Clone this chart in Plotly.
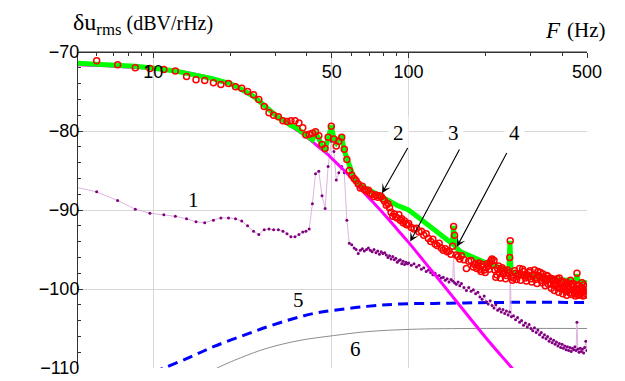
import numpy as np
import plotly.graph_objects as go

# ---------------- data ----------------
# frequencies of the measured spectra (Hz)
F_LO = [6.0, 7.25, 8.5, 9.7, 11.0, 12.2, 13.5, 14.7, 15.9, 17.2,
        18.4, 19.7, 21.0, 22.2, 23.4, 24.7, 25.9, 27.2, 28.4, 29.6,
        30.9, 32.2, 33.4, 34.6, 35.9, 37.2, 38.5, 39.6, 40.8, 42.0,
        43.2, 44.5, 45.8, 47.1, 48.4, 49.8, 51.0, 52.1, 53.3, 54.7,
        56.0, 57.3, 58.6, 59.9, 61.2]
F_HI = [62.3, 63.5, 64.7, 65.9, 67.1, 68.4, 69.6, 70.8, 72.0, 73.2,
        74.5, 75.7, 76.9, 78.1, 79.3, 80.6, 81.8, 83.0, 84.2, 85.4,
        86.7, 87.9, 89.1, 90.3, 91.6, 92.8, 94.0, 95.2, 96.4, 97.7,
        98.9, 100.1, 102.5, 105.0, 107.4, 109.9, 112.3, 114.7, 117.2, 119.6,
        122.1, 124.5, 127.0, 129.4, 131.8, 134.3, 136.7, 139.2, 141.6, 144.0,
        146.5, 148.9, 150.1, 151.4, 153.8, 156.3, 158.7, 161.1, 164.8, 168.5,
        172.1, 175.8, 179.4, 183.1, 186.8, 190.4, 194.1, 197.8, 201.4, 205.1,
        208.7, 212.4, 216.1, 219.7, 223.4, 227.1, 230.7, 234.4, 238.0, 241.7,
        245.4, 249.0, 250.2, 252.7, 257.6, 262.5, 267.3, 272.2, 277.1, 282.0,
        286.9, 291.8, 296.7, 301.6, 306.5, 311.3, 316.2, 321.1, 326.0, 330.9,
        335.8, 340.7, 345.5, 350.4, 355.3, 360.2, 365.1, 370.0, 374.9, 379.8,
        384.6, 389.5, 394.4, 399.3, 404.2, 409.1, 414.0, 418.9, 423.7, 428.6,
        433.5, 438.4, 443.3, 448.2, 453.1, 456.7, 460.4, 465.3, 470.2, 475.1,
        480.0, 484.9, 489.7, 494.6, 499.5]
# extra measured bins (red circles only) in the dense upper band
F_RED2 = [181.3, 185.0, 188.6, 192.3, 195.9, 199.6, 203.3, 206.9, 210.6, 214.2,
          217.9, 221.6, 225.2, 228.9, 232.5, 236.2, 239.9, 243.5, 255.2, 260.0,
          264.9, 269.8, 274.7, 279.6, 284.5, 289.3, 294.2, 299.1, 304.0, 308.9,
          313.8, 318.7, 323.5, 328.4, 333.3, 338.2, 343.1, 348.0, 352.9, 357.8,
          362.6, 367.5, 372.4, 377.3, 382.2, 387.1, 392.0, 396.8, 401.7, 406.6,
          411.5, 416.4, 421.3, 426.2, 431.0, 435.9, 440.8, 445.7, 450.6, 458.0,
          462.9, 467.8, 472.6, 477.5, 482.4, 487.3, 492.2, 497.1]

# red open circles (measured, curve 2)
RED_LO = [-71.1, -71.6, -72.0, -72.1, -72.2, -72.4, -73.1, -73.5, -73.6, -73.9,
          -74.1, -74.0, -74.4, -74.6, -75.0, -75.4, -76.0, -76.9, -77.7, -78.0,
          -78.2, -78.7, -78.8, -78.7, -78.7, -79.0, -79.6, -80.5, -80.4, -80.3,
          -80.1, -80.6, -81.7, -82.2, -80.8, -79.4, -81.0, -81.9, -81.3, -80.8,
          -82.3, -83.6, -85.0, -85.6, -86.0]
RED_HI = [-86.3, -86.7, -87.2, -87.0, -87.4, -87.6, -87.5, -87.9, -88.0, -88.3,
          -88.1, -88.4, -88.2, -88.3, -88.6, -88.9, -89.4, -89.2, -89.7, -90.3,
          -90.8, -90.5, -90.9, -91.0, -90.6, -91.3, -91.1, -91.6, -91.4, -91.8,
          -91.9, -91.7, -92.2, -92.4, -92.3, -92.8, -92.7, -93.2, -93.0, -93.6,
          -94.0, -93.7, -94.3, -94.5, -94.2, -94.8, -95.1, -94.9, -95.3, -95.2,
          -95.6, -94.6, -92.1, -93.2, -95.7, -95.9, -96.2, -95.8, -96.3, -97.4,
          -96.5, -96.4, -97.2, -96.8, -97.0, -97.5, -96.9, -97.6, -97.3, -97.1,
          -96.6, -96.2, -96.4, -98.5, -97.4, -97.9, -97.5, -98.1, -97.7, -98.3,
          -97.9, -96.0, -93.9, -98.4, -98.6, -98.0, -98.4, -97.4, -98.2, -97.8,
          -98.6, -98.2, -97.9, -98.7, -98.3, -97.6, -98.5, -97.8, -98.4, -98.9,
          -98.1, -98.6, -99.0, -98.4, -98.8, -99.3, -98.7, -99.5, -98.9, -99.2,
          -99.8, -98.6, -99.4, -100.0, -99.1, -99.6, -100.3, -99.2, -99.8, -100.5,
          -99.4, -100.1, -99.7, -100.6, -99.9, -98.0, -100.2, -99.6, -100.7, -99.8,
          -100.4, -99.5, -100.8, -100.1, -99.7]
RED2 = [-96.9, -97.4, -96.7, -97.8, -97.2, -97.9, -96.8, -97.5, -96.4, -97.0,
        -97.6, -98.2, -97.1, -98.6, -97.3, -98.0, -98.7, -97.6, -98.9, -97.7,
        -98.8, -98.1, -98.9, -97.5, -98.3, -99.0, -98.5, -97.7, -99.1, -98.2,
        -98.8, -99.3, -98.3, -97.9, -99.2, -98.7, -99.6, -98.3, -99.4, -98.6,
        -99.9, -98.9, -100.2, -99.5, -98.7, -100.4, -99.9, -99.0, -100.6, -99.8,
        -99.3, -100.8, -99.6, -100.1, -98.9, -100.7, -99.3, -100.4, -100.9, -99.5,
        -100.8, -99.9, -100.5, -99.2, -100.9, -100.3, -99.8, -100.6]

# purple dots (background noise, curve 1)
PURPLE_F0 = [4.8]
PURPLE_LO = [-87.0,
             -87.7, -88.8, -89.9, -90.4, -90.6, -90.8, -91.1, -91.5, -91.6, -91.3,
             -91.0, -91.0, -91.1, -91.4, -92.0, -92.7, -93.1, -92.5, -92.4, -92.5,
             -92.5, -92.7, -93.0, -93.4, -93.4, -93.1, -92.8, -92.7, -92.4, -89.2,
             -85.4, -85.1, -88.2, -89.8, -84.5, -81.3, -82.6, -86.2, -85.3, -84.5,
             -85.3, -91.3, -94.2, -94.4, -94.8]
PURPLE_HI = [-95.0, -95.5, -95.1, -94.9, -95.2, -95.0, -94.8, -95.1, -95.3, -95.0,
             -95.4, -95.2, -95.6, -95.3, -95.5, -95.4, -95.7, -96.0, -95.8, -96.2,
             -95.9, -96.3, -96.1, -96.6, -96.4, -96.3, -96.8, -96.5, -96.9, -96.6,
             -96.8, -96.7, -97.0, -96.8, -97.2, -97.0, -97.5, -97.3, -97.8, -97.6,
             -97.9, -98.2, -98.0, -98.4, -98.3, -98.6, -98.5, -98.9, -98.7, -99.1,
             -98.8, -99.0, -95.8, -99.2, -99.4, -99.1, -99.6, -99.3, -99.8, -100.2,
             -99.8, -100.3, -100.1, -100.6, -100.4, -101.0, -101.3, -100.9, -101.6, -101.9,
             -101.5, -102.1, -102.4, -102.0, -102.7, -102.5, -102.9, -102.6, -103.1, -102.8,
             -103.3, -102.9, -98.2, -103.5, -103.4, -103.9, -103.6, -104.2, -104.0, -104.6,
             -104.3, -104.8, -104.5, -105.0, -105.3, -104.9, -105.5, -105.2, -105.8, -105.5,
             -106.1, -105.8, -106.3, -106.0, -106.6, -106.3, -106.8, -106.5, -107.0, -106.7,
             -107.2, -106.9, -107.4, -107.0, -107.5, -107.2, -107.7, -107.3, -107.8, -107.4,
             -107.9, -107.5, -107.7, -107.3, -107.8, -104.2, -107.6, -108.0, -107.5, -107.9,
             -107.6, -108.1, -107.4, -106.6, -107.8]

# green thick line (curve 4)
GREEN_F = [4.8] + F_LO + [65.0, 70.0, 75.0, 80.0, 85.0, 90.0, 95.0, 100.0,
                          110.0, 120.0, 130.0, 140.0, 147.5, 149.0, 150.0, 151.2, 153.0,
                          160.0, 175.0, 190.0, 205.0, 220.0, 235.0,
                          247.0, 248.5, 249.5, 250.7, 252.0,
                          270.0, 290.0, 320.0, 350.0, 380.0, 420.0,
                          453.0, 456.5, 460.0, 480.0, 500.0]
GREEN_DB = [-71.4, -71.5, -71.6, -71.8, -72.0, -72.2, -72.4, -72.7, -72.9, -73.2,
            -73.4, -73.7, -73.9, -74.3, -74.7, -75.1, -75.6, -76.2, -76.8, -77.4,
            -77.9, -78.3, -78.6, -79.0, -79.3, -79.5, -79.8, -80.1, -80.5, -80.8,
            -81.1, -80.3, -80.9, -82.0, -82.3, -81.0, -79.3, -81.0, -81.5, -81.0,
            -80.8, -82.5, -83.4, -84.6, -85.5, -86.0,
            -86.9, -87.5, -88.0, -88.5, -89.0, -89.4, -89.7, -90.0,
            -91.0, -91.9, -92.7, -93.6, -94.2, -93.5, -92.0, -93.8, -94.7,
            -95.3, -95.9, -96.4, -96.8, -97.1, -97.5,
            -97.8, -95.5, -93.9, -95.8, -97.9,
            -98.0, -98.3, -98.5, -98.7, -98.8, -98.9,
            -99.0, -98.1, -99.0, -99.1, -99.2]

# magenta model curve (curve 3)
MAG_F = [4.8, 7, 10, 13, 16, 19, 22, 25, 28, 31, 34, 37, 40, 44, 48, 52, 56, 60,
         66, 72, 80, 90, 100, 115, 130, 150, 175, 200, 230, 254, 280]
MAG_DB = [-71.6, -71.8, -72.1, -72.5, -73.1, -73.8, -74.7, -75.7, -77.0, -78.2,
          -79.2, -80.0, -80.8, -81.9, -82.9, -84.0, -85.0, -86.0,
          -87.6, -88.9, -90.5, -92.4, -94.1, -96.5, -98.6, -101.1, -103.8, -106.1,
          -108.4, -110.0, -111.7]

# blue dashed curve (5) and grey curve (6)
BLUE_F = [10.0, 11.0, 14.0, 17.2, 22.0, 27.9, 35.0, 42.4, 50.8, 68.6, 92.8, 145.0, 229.0, 500.0]
BLUE_DB = [-110.5, -110.0, -108.6, -107.3, -106.0, -104.8, -103.8, -103.1, -102.7,
           -102.2, -101.9, -101.8, -101.7, -101.7]
GRAY_F = [16.5, 17.8, 22.0, 27.9, 37.6, 50.8, 68.6, 103.0, 169.0, 500.0]
GRAY_DB = [-110.6, -110.0, -108.7, -107.5, -106.5, -105.9, -105.4, -105.1, -105.0, -105.0]

X_TICKS = [10, 50, 100, 500]
X_TICKTEXT = ["10", "50", "100", "500"]
X_MINOR = [6, 7, 8, 9, 20, 30, 40, 60, 70, 80, 90, 200, 300, 400]
Y_TICKS = [-70, -80, -90, -100, -110]

# ---------------- figure ----------------
fig = go.Figure()

fig.add_trace(go.Scatter(x=GRAY_F, y=GRAY_DB, mode="lines",
                         line=dict(color="rgb(140,140,140)", width=1, shape="spline"), hoverinfo="skip"))
fig.add_trace(go.Scatter(x=BLUE_F, y=BLUE_DB, mode="lines",
                         line=dict(color="#0000FF", width=3, dash="10px,6px", shape="spline"), hoverinfo="skip"))
fig.add_trace(go.Scatter(x=PURPLE_F0 + F_LO + F_HI, y=PURPLE_LO + PURPLE_HI, mode="lines+markers",
                         line=dict(color="rgb(222,180,222)", width=1),
                         marker=dict(color="#800080", size=3), hoverinfo="skip"))
fig.add_trace(go.Scatter(x=MAG_F, y=MAG_DB, mode="lines",
                         line=dict(color="#FF00FF", width=3, shape="spline"), hoverinfo="skip"))
fig.add_trace(go.Scatter(x=GREEN_F, y=GREEN_DB, mode="lines",
                         line=dict(color="#00FF00", width=5), hoverinfo="skip"))
fig.add_trace(go.Scatter(x=F_LO + F_HI + F_RED2, y=RED_LO + RED_HI + RED2, mode="markers",
                         marker=dict(symbol="circle-open", color="#FF0000", size=6, line=dict(width=1.5)),
                         hoverinfo="skip"))

axis_col = "#333333"
grid_col = "rgb(215,215,215)"
tfont = dict(family="Liberation Sans, Arial, sans-serif", size=18, color="black")
serif = "Liberation Serif, Times New Roman, serif"

fig.update_layout(
    width=625, height=381,
    margin=dict(l=78, r=38, t=52, b=13),
    paper_bgcolor="white", plot_bgcolor="white",
    showlegend=False,
    title=dict(text='δu<sub>rms</sub><span style="font-size:20px"> (dBV/rHz)</span>',
               font=dict(family=serif, size=24, color="black"),
               xref="container", x=73 / 625, xanchor="left",
               yref="container", y=1 - 22 / 381, yanchor="middle"),
    xaxis=dict(type="log", range=[np.log10(5.07), np.log10(500)],
               anchor="free", position=1, side="bottom", automargin=False,
               tickmode="array", tickvals=X_TICKS, ticktext=X_TICKTEXT,
               ticks="outside", ticklen=5, tickcolor=axis_col, tickwidth=1,
               ticklabelstandoff=-2,
               showline=True, linecolor=axis_col, linewidth=1,
               showgrid=True, gridcolor=grid_col, gridwidth=1, zeroline=False,
               tickfont=tfont,
               minor=dict(tickmode="array", tickvals=X_MINOR, ticks="outside", ticklen=3,
                          tickcolor=axis_col, tickwidth=1, showgrid=False)),
    yaxis=dict(range=[-110, -70], tickmode="array", tickvals=Y_TICKS, automargin=False,
               ticks="inside", ticklen=5, tickcolor=axis_col,
               ticklabelstandoff=-6,
               showline=True, linecolor=axis_col, linewidth=1,
               showgrid=True, gridcolor=grid_col, gridwidth=1, zeroline=False,
               tickfont=tfont,
               minor=dict(dtick=2, tick0=-70, ticks="inside", ticklen=3, tickcolor=axis_col, showgrid=False)),
    shapes=[dict(type="line", xref="paper", yref="paper", x0=0, x1=1, y0=1, y1=1,
                 line=dict(color=axis_col, width=1), layer="above")],
)


def px_x(p):
    return (p - 78) / 509


def px_y(p):
    return (368 - p) / 316


ann = []
ann.append(dict(xref="paper", yref="paper", x=px_x(543), y=px_y(30),
                xanchor="left", yanchor="middle", showarrow=False,
                text="<i>F</i>", font=dict(family=serif, size=23, color="black")))
ann.append(dict(xref="paper", yref="paper", x=px_x(565), y=px_y(30),
                xanchor="left", yanchor="middle", showarrow=False,
                text="(Hz)", font=dict(family=serif, size=21, color="black")))

# curve numbers
labels = [("1", 14.35, -88.72, None), ("2", 91.1, -80.2, "white"), ("3", 150.3, -80.2, "white"),
          ("4", 259.4, -80.2, "white"), ("5", 37.2, -101.45, None), ("6", 61.7, -107.6, None)]
for t, fx, fy, bg in labels:
    d = dict(xref="x", yref="y", x=np.log10(fx), y=fy, text=t, showarrow=False,
             font=dict(family=serif, size=21, color="black"), xanchor="center", yanchor="middle")
    if bg:
        d.update(bgcolor=bg, borderpad=4)
    ann.append(d)

# arrows (tip, tail)
arrows = [((78.7, -87.87), (100.0, -81.95)),
          ((101.5, -94.0), (159.4, -82.16)),
          ((154.7, -94.65), (244.2, -82.6))]
for (tx, ty), (sx, sy) in arrows:
    ann.append(dict(xref="x", yref="y", axref="x", ayref="y",
                    x=np.log10(tx), y=ty, ax=np.log10(sx), ay=sy, text="",
                    showarrow=True, arrowhead=3, arrowsize=1.4, arrowwidth=1.1, arrowcolor="black"))

fig.update_layout(annotations=ann)
fig.write_html("out.html")
